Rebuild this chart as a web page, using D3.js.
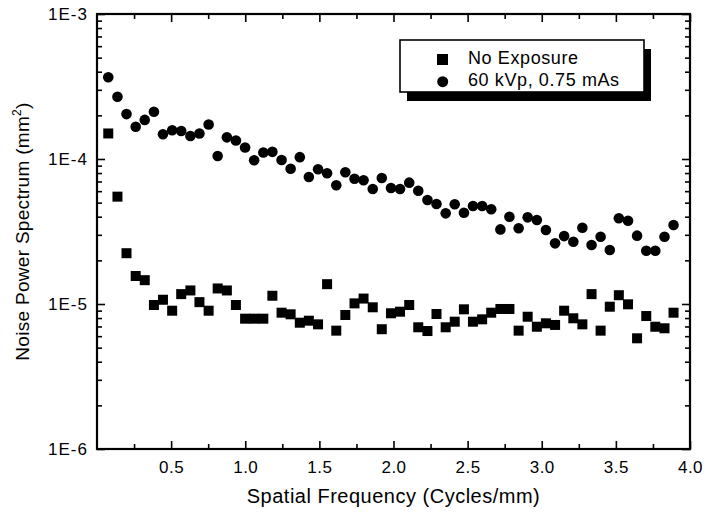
<!DOCTYPE html>
<html>
<head>
<meta charset="utf-8">
<script src="https://cdn.jsdelivr.net/npm/d3@7/dist/d3.min.js"></script>
<style>
  body { margin: 0; background: #fff; }
  text { font-family: Arial, "Liberation Sans", Helvetica, sans-serif; fill: #000; }
</style>
</head>
<body>
<svg id="chart"></svg>
<script>
// spatial frequency of each sample (cycles/mm)
var freq = [0.076, 0.138, 0.199, 0.261, 0.322, 0.384, 0.445, 0.507, 0.568, 0.630,
            0.691, 0.753, 0.814, 0.876, 0.937, 0.999, 1.060, 1.122, 1.183, 1.245,
            1.306, 1.368, 1.429, 1.491, 1.552, 1.614, 1.675, 1.737, 1.798, 1.860,
            1.921, 1.983, 2.044, 2.106, 2.167, 2.229, 2.290, 2.352, 2.413, 2.475,
            2.536, 2.598, 2.659, 2.721, 2.782, 2.844, 2.905, 2.967, 3.028, 3.090,
            3.151, 3.213, 3.274, 3.336, 3.397, 3.459, 3.520, 3.582, 3.643, 3.705,
            3.766, 3.828, 3.889];

var noExposure = [1.50e-4, 5.50e-5, 2.24e-5, 1.56e-5, 1.46e-5, 9.84e-6, 1.07e-5, 8.99e-6, 1.17e-5, 1.24e-5,
                  1.03e-5, 8.99e-6, 1.28e-5, 1.24e-5, 9.84e-6, 7.92e-6, 7.92e-6, 7.92e-6, 1.14e-5, 8.71e-6,
                  8.49e-6, 7.43e-6, 7.67e-6, 7.24e-6, 1.37e-5, 6.55e-6, 8.40e-6, 1.01e-5, 1.09e-5, 9.49e-6,
                  6.70e-6, 8.63e-6, 8.85e-6, 9.84e-6, 6.91e-6, 6.51e-6, 8.53e-6, 6.91e-6, 7.55e-6, 9.19e-6,
                  7.55e-6, 7.84e-6, 8.71e-6, 9.24e-6, 9.24e-6, 6.55e-6, 8.17e-6, 6.97e-6, 7.36e-6, 7.17e-6,
                  8.99e-6, 7.97e-6, 7.24e-6, 1.17e-5, 6.55e-6, 9.58e-6, 1.15e-5, 9.95e-6, 5.80e-6, 8.26e-6,
                  6.97e-6, 6.80e-6, 8.71e-6];

var kvp60 = [3.66e-4, 2.69e-4, 2.04e-4, 1.67e-4, 1.86e-4, 2.12e-4, 1.48e-4, 1.58e-4, 1.56e-4, 1.44e-4,
             1.50e-4, 1.73e-4, 1.05e-4, 1.41e-4, 1.34e-4, 1.20e-4, 9.80e-5, 1.11e-4, 1.12e-4, 9.85e-5,
             8.57e-5, 1.03e-4, 7.51e-5, 8.49e-5, 7.97e-5, 6.59e-5, 8.10e-5, 7.31e-5, 7.13e-5, 6.21e-5,
             7.40e-5, 6.31e-5, 6.21e-5, 6.87e-5, 6.04e-5, 5.21e-5, 4.89e-5, 4.22e-5, 4.87e-5, 4.26e-5,
             4.74e-5, 4.74e-5, 4.50e-5, 3.27e-5, 4.00e-5, 3.33e-5, 3.96e-5, 3.80e-5, 3.24e-5, 2.62e-5,
             2.94e-5, 2.69e-5, 3.36e-5, 2.55e-5, 2.91e-5, 2.36e-5, 3.90e-5, 3.75e-5, 2.96e-5, 2.33e-5,
             2.33e-5, 2.91e-5, 3.51e-5];

var xTicks = [0.5, 1.0, 1.5, 2.0, 2.5, 3.0, 3.5, 4.0];
var xMinorTicks = [0.25, 0.75, 1.25, 1.75, 2.25, 2.75, 3.25, 3.75];
var yTicks = [1e-6, 1e-5, 1e-4, 1e-3];
var yTickLabels = ["1E-6", "1E-5", "1E-4", "1E-3"];
var legendNames = ["No Exposure", "60 kVp, 0.75 mAs"];

var width = 707, height = 514;
var margin = {left: 97, top: 14, right: 17, bottom: 65};
var plotW = width - margin.left - margin.right;
var plotH = height - margin.top - margin.bottom;

var svg = d3.select("#chart").attr("width", width).attr("height", height);
var g = svg.append("g").attr("transform", "translate(" + margin.left + "," + margin.top + ")");

var x = d3.scaleLinear().domain([0, 4]).range([0, plotW]);
var y = d3.scaleLog().domain([1e-6, 1e-3]).range([plotH, 0]);

var yMinor = y.ticks().filter(function(d) {
  return yTicks.indexOf(d) < 0 && Math.abs(Math.log10(d) - Math.round(Math.log10(d))) > 1e-6;
});

function styleAxis(sel) {
  sel.select(".domain").remove();
  sel.selectAll("line").attr("stroke", "#000").attr("stroke-width", 1.6);
}

// bottom axis
g.append("g").attr("transform", "translate(0," + plotH + ")")
  .call(d3.axisBottom(x).tickValues(xTicks).tickSize(-8).tickPadding(12)
        .tickFormat(d3.format(".1f")))
  .call(styleAxis)
  .selectAll("text").attr("font-size", 17).attr("letter-spacing", 0.5);
g.append("g").attr("transform", "translate(0," + plotH + ")")
  .call(d3.axisBottom(x).tickValues(xMinorTicks).tickSize(-5).tickFormat(""))
  .call(styleAxis);
// top axis
g.append("g")
  .call(d3.axisTop(x).tickValues(xTicks).tickSize(-8).tickFormat(""))
  .call(styleAxis);
g.append("g")
  .call(d3.axisTop(x).tickValues(xMinorTicks).tickSize(-5).tickFormat(""))
  .call(styleAxis);

// left axis
g.append("g")
  .call(d3.axisLeft(y).tickValues(yTicks).tickSize(-8).tickPadding(9)
        .tickFormat(function(d, i) { return yTickLabels[i]; }))
  .call(styleAxis)
  .selectAll("text").attr("font-size", 17).attr("letter-spacing", 1);
g.append("g")
  .call(d3.axisLeft(y).tickValues(yMinor).tickSize(-5).tickFormat(""))
  .call(styleAxis);
// right axis
g.append("g").attr("transform", "translate(" + plotW + ",0)")
  .call(d3.axisRight(y).tickValues(yTicks).tickSize(-8).tickFormat(""))
  .call(styleAxis);
g.append("g").attr("transform", "translate(" + plotW + ",0)")
  .call(d3.axisRight(y).tickValues(yMinor).tickSize(-5).tickFormat(""))
  .call(styleAxis);

// frame
g.append("rect")
  .attr("width", plotW).attr("height", plotH)
  .attr("fill", "none").attr("stroke", "#000").attr("stroke-width", 2.2);

// data
var sq = 10;
g.selectAll("rect.noexp")
  .data(noExposure)
  .enter()
  .append("rect")
  .attr("class", "noexp")
  .attr("x", function(d, i) { return x(freq[i]) - sq / 2; })
  .attr("y", function(d) { return y(d) - sq / 2; })
  .attr("width", sq).attr("height", sq)
  .attr("fill", "#000");

g.selectAll("circle.kvp")
  .data(kvp60)
  .enter()
  .append("circle")
  .attr("class", "kvp")
  .attr("cx", function(d, i) { return x(freq[i]); })
  .attr("cy", function(d) { return y(d); })
  .attr("r", 5.3)
  .attr("fill", "#000");

// axis titles
svg.append("text")
  .attr("x", margin.left + plotW / 2).attr("y", 503)
  .attr("text-anchor", "middle")
  .attr("font-size", 20).attr("letter-spacing", 0.5)
  .text("Spatial Frequency (Cycles/mm)");

var yt = svg.append("text")
  .attr("transform", "translate(29," + (margin.top + plotH / 2) + ") rotate(-90)")
  .attr("text-anchor", "middle")
  .attr("font-size", 19).attr("letter-spacing", 0.3);
yt.append("tspan").text("Noise Power Spectrum (mm");
yt.append("tspan").attr("font-size", 12).attr("dy", -8).text("2");
yt.append("tspan").attr("dy", 8).text(")");

// legend
var lg = svg.append("g").attr("transform", "translate(400,40)");
lg.append("rect").attr("x", 7).attr("y", 9).attr("width", 244).attr("height", 52).attr("fill", "#000");
lg.append("rect").attr("width", 244).attr("height", 52)
  .attr("fill", "#fff").attr("stroke", "#000").attr("stroke-width", 1.6);
lg.append("rect").attr("x", 37).attr("y", 14).attr("width", 11).attr("height", 11).attr("fill", "#000");
lg.append("circle").attr("cx", 42.7).attr("cy", 41.7).attr("r", 5.5).attr("fill", "#000");
lg.selectAll("text.leg")
  .data(legendNames)
  .enter()
  .append("text")
  .attr("class", "leg")
  .attr("x", 68)
  .attr("y", function(d, i) { return 23.5 + i * 22; })
  .attr("font-size", 18).attr("letter-spacing", 0.6)
  .text(function(d) { return d; });
</script>
</body>
</html>
